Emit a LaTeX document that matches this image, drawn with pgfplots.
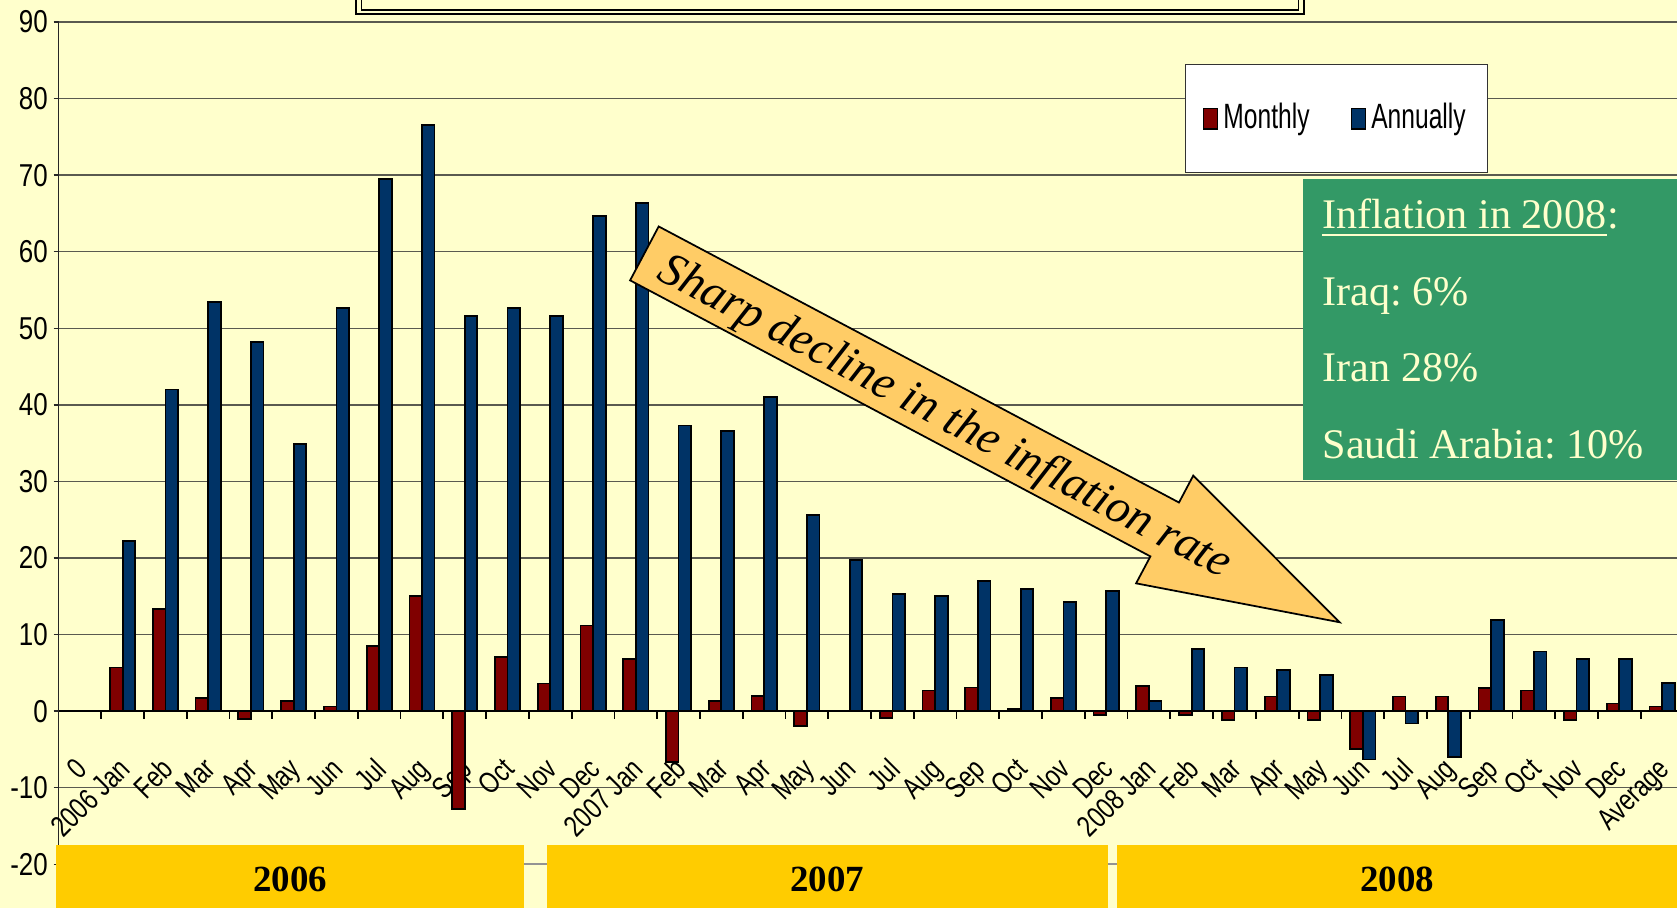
\documentclass[border=0pt]{standalone}
\usepackage{pgfplots}
\pgfplotsset{compat=1.18}
\usepackage{fontspec}
\setmainfont{Liberation Sans}
\newfontfamily\narrowfont{Liberation Sans}[FakeStretch=0.78]
\newfontfamily\ynarrowfont{Liberation Sans}[FakeStretch=0.82]
\newfontfamily\legfont{Liberation Sans}[FakeStretch=0.70]
\newfontfamily\serifrm{Liberation Serif}
\definecolor{bg}{HTML}{FFFFCC}
\definecolor{mred}{HTML}{800000}
\definecolor{mblue}{HTML}{003366}
\definecolor{gridc}{HTML}{5A5A50}
\definecolor{gbox}{HTML}{339966}
\definecolor{band}{HTML}{FFCC00}
\definecolor{arrowc}{HTML}{FFCC66}
\frenchspacing
\begin{document}
\begin{tikzpicture}[x=1cm,y=1cm]
\useasboundingbox (0,0) rectangle (16.77,9.08);
\clip (0,0) rectangle (16.77,9.08);
\fill[bg] (0,0) rectangle (16.77,9.08);
% title box (cut off at top)
\draw[line width=0.57pt] (3.56,8.937) rectangle (13.04,9.4);
\draw[line width=0.48pt] (3.615,8.98) rectangle (12.985,9.4);
\begin{axis}[
  at={(0.585cm,0.437cm)}, anchor=south west,
  scale only axis, width=16.25cm, height=8.423cm,
  xmin=-0.5, xmax=37.5, ymin=-20, ymax=90,
  axis x line*=bottom, axis y line*=left,
  x axis line style={color=gray!85, line width=0.6pt},
  y axis line style={color=black!85, line width=0.45pt},
  ybar legend/.style={legend image code/.code={\draw[##1, draw=black, line width=0.5pt] (0cm,-0.1cm) rectangle (0.14cm,0.1cm);}},
  ybar=0pt, bar width=1.26mm,
  legend image code/.code={\draw[#1, draw=black, line width=0.5pt] (0cm,-0.1cm) rectangle (0.14cm,0.1cm);},
  ytick={-20,-10,...,90},
  yticklabels={-20,-10,0,10,20,30,40,50,60,70,80,90},
  xtick={0,...,37},
  xticklabels={0,2006 Jan,Feb,Mar,Apr,May,Jun,Jul,Aug,Sep,Oct,Nov,Dec,2007 Jan,Feb,Mar,Apr,May,Jun,Jul,Aug,Sep,Oct,Nov,Dec,2008 Jan,Feb,Mar,Apr,May,Jun,Jul,Aug,Sep,Oct,Nov,Dec,Average},
  tick align=outside, major tick length=0.5mm,
  xtick style={draw=none},
  ytick style={color=black!85, line width=0.4pt},
  ymajorgrids, grid style={color=gridc, line width=0.4pt},
  yticklabel style={font=\ynarrowfont\fontsize{9}{10}\selectfont, text=black, inner xsep=0.5mm},
  xticklabel style={font=\narrowfont\fontsize{8.5}{10}\selectfont, text=black, yshift=11.4mm, xshift=-0.6mm, rotate=45, anchor=north east, inner sep=0pt},
  legend columns=2,
  legend style={at={(0.6932,0.9501)}, anchor=north west, draw=black!80, line width=0.4pt, fill=white,
    font=\legfont\fontsize{10}{12}\selectfont, inner xsep=1.7mm, inner ysep=3.35mm,
    nodes={inner sep=0.5mm},
    /tikz/every even column/.append style={column sep=3.6mm}},
]
\addplot[fill=mred, draw=black, line width=0.5pt] coordinates {
(1,5.7) (2,13.3) (3,1.7) (4,-1.0) (5,1.3) (6,0.6) (7,8.5) (8,15.0) (9,-12.8) (10,7.1) (11,3.6) (12,11.2)
(13,6.8) (14,-6.6) (15,1.3) (16,2.0) (17,-1.9) (18,0) (19,-0.9) (20,2.7) (21,3.1) (22,0.3) (23,1.7) (24,-0.5)
(25,3.3) (26,-0.5) (27,-1.2) (28,1.9) (29,-1.2) (30,-4.9) (31,1.9) (32,1.9) (33,3.0) (34,2.7) (35,-1.2) (36,1.0)
(37,0.6)};
\addplot[fill=mblue, draw=black, line width=0.5pt] coordinates {
(1,22.2) (2,42.0) (3,53.4) (4,48.2) (5,34.9) (6,52.7) (7,69.5) (8,76.6) (9,51.6) (10,52.7) (11,51.6) (12,64.7)
(13,66.4) (14,37.3) (15,36.6) (16,41.0) (17,25.6) (18,19.7) (19,15.3) (20,15.0) (21,17.0) (22,16.0) (23,14.3) (24,15.7)
(25,1.3) (26,8.1) (27,5.7) (28,5.4) (29,4.7) (30,-6.3) (31,-1.6) (32,-6.0) (33,11.9) (34,7.8) (35,6.8) (36,6.8)
(37,3.7)};
\legend{Monthly,Annually}
\draw[black, line width=0.45pt] (axis cs:-0.5,0) -- (axis cs:37.5,0);
\pgfplotsinvokeforeach{0.5,1.5,...,36.5}{\draw[black, line width=0.5pt] (axis cs:#1,0) -- ++(0pt,-0.8mm);}
\end{axis}
% green info box
\fill[gbox] (13.03,4.28) rectangle (16.9,7.29);
\begin{scope}[every node/.style={inner sep=0pt, anchor=base west, text=bg, font=\serifrm\fontsize{12}{14}\selectfont}]
\node (t1) at (13.22,6.80) {Inflation in 2008};
\node at (t1.base east) {:};
\draw[bg, line width=0.55pt] ([yshift=-0.07cm]t1.base west) -- ([yshift=-0.07cm]t1.base east);
\node at (13.22,6.03) {Iraq: 6\%};
\node at (13.22,5.27) {Iran 28\%};
\node at (13.22,4.50) {Saudi Arabia: 10\%};
\end{scope}
% arrow
\begin{scope}[shift={(6.444,6.546)}, rotate=-27.95]
\filldraw[fill=arrowc, draw=black, line width=0.5pt] (0,0.305) -- (5.89,0.305) -- (5.89,0.61) -- (7.87,0) -- (5.89,-0.61) -- (5.89,-0.305) -- (0,-0.305) -- cycle;
\node[transform shape, inner sep=0pt, font=\serifrm\itshape\fontsize{13.5}{16}\selectfont] at (3.42,-0.05) {Sharp decline in the inflation rate};
\end{scope}
% year bands
\fill[band] (0.56,0) rectangle (5.235,0.63);
\fill[band] (5.465,0) rectangle (11.08,0.63);
\fill[band] (11.17,0) rectangle (16.9,0.63);
\begin{scope}[every node/.style={inner sep=0pt, anchor=base, font=\serifrm\bfseries\fontsize{10.5}{12}\selectfont}]
\node at (2.90,0.163) {2006};
\node at (8.27,0.163) {2007};
\node at (13.97,0.163) {2008};
\end{scope}
\end{tikzpicture}
\end{document}
